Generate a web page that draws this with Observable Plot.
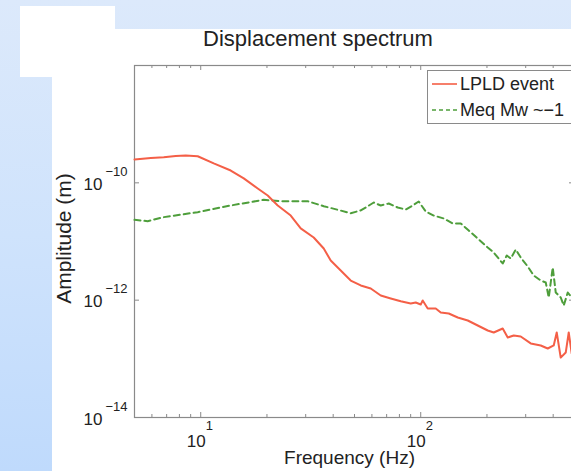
<!DOCTYPE html>
<html>
<head>
<meta charset="utf-8">
<script src="https://cdn.jsdelivr.net/npm/d3@7"></script>
<script src="https://cdn.jsdelivr.net/npm/@observablehq/plot@0.6"></script>
<style>
  html, body { margin: 0; padding: 0; width: 571px; height: 471px; overflow: hidden; }
  body { position: relative; font-family: "Liberation Sans", Arial, sans-serif; }
  #bg { position: absolute; left: 0; top: 0; width: 571px; height: 471px;
        background: linear-gradient(to bottom, #dce9fb 0%, #cfe3fc 50%, #bfdafc 100%); }
  #panel { position: absolute; left: 52px; top: 29px; width: 519px; height: 442px; background: #fff; }
  #box { position: absolute; left: 20px; top: 6px; width: 95px; height: 71px; background: #fff; }
  #chart { position: absolute; left: 0; top: 0; width: 571px; height: 471px; overflow: hidden; }
  #title { position: absolute; left: 118px; width: 400px; top: 26px; text-align: center;
           font-size: 22px; color: #222; line-height: 26px; }
  #legend { position: absolute; left: 427px; top: 70px; width: 160px; height: 54px;
            border: 1px solid #8a8a8a; background: #fff; box-sizing: border-box; }
  #legend .row { position: absolute; left: 4px; height: 24px; display: flex; align-items: center;
                 font-size: 18px; color: #222; white-space: nowrap; }
  #legend svg { margin-right: 3px; }
</style>
</head>
<body>
<div id="bg"></div>
<div id="panel"></div>
<div id="box"></div>
<div id="chart"></div>
<div id="title">Displacement spectrum</div>
<div id="legend"></div>
<script>
// ---- data (frequency in Hz, amplitude in m) ----
const lpldFreq = [5.0, 5.93, 6.79, 7.70, 8.55, 9.69, 11.46, 13.69, 15.69, 18.16, 20.16, 22.39, 25.65, 28.48,
  32.63, 36.24, 38.98, 43.29, 48.07, 53.38, 59.27, 65.81, 73.07, 81.13, 90.06, 94.9, 100, 102.1, 107.6,
  117.0, 123.3, 134.1, 147.3, 163.6, 181.6, 201.6, 214.7, 235.9, 248.6, 264.7, 284.8, 316.2, 351.2,
  377.8, 402.3, 415.1, 432.9, 456.2, 470.7, 485.7];
const lpldAmp = [2.50e-10, 2.65e-10, 2.74e-10, 2.87e-10, 2.92e-10, 2.84e-10, 2.14e-10, 1.62e-10, 1.19e-10,
  8.0e-11, 6.08e-11, 4.11e-11, 2.77e-11, 1.67e-11, 1.17e-11, 7.6e-12, 4.74e-12, 3.20e-12, 2.16e-12,
  1.78e-12, 1.58e-12, 1.20e-12, 1.07e-12, 9.6e-13, 8.77e-13, 9.12e-13, 8.44e-13, 9.87e-13, 7.21e-13,
  7.21e-13, 6.16e-13, 5.93e-13, 5.06e-13, 4.50e-13, 3.70e-13, 3.04e-13, 2.81e-13, 3.29e-13, 2.31e-13,
  2.50e-13, 2.40e-13, 1.83e-13, 1.69e-13, 1.50e-13, 1.69e-13, 2.81e-13, 1.05e-13, 1.28e-13, 2.81e-13, 1.23e-13];

const meqFreq = [5.0, 5.74, 6.79, 9.69, 13.69, 19.34, 23.10, 30.65, 36.24, 48.07, 53.38, 56.23, 61.15,
  65.81, 71.55, 78.6, 85.5, 91.95, 97.9, 105.4, 114.6, 127.2, 139.8, 152.0, 165.3, 181.6, 201.6, 214.7,
  235.9, 246.0, 256.5, 270.3, 284.8, 306.5, 326.3, 351.2, 370.1, 381.9, 398.1, 410.9, 432.9, 446.7,
  465.9, 485.7];
const meqAmp = [2.34e-11, 2.22e-11, 2.60e-11, 3.16e-11, 4.11e-11, 5.14e-11, 4.86e-11, 4.86e-11, 4.00e-11,
  3.04e-11, 3.38e-11, 3.80e-11, 4.62e-11, 4.11e-11, 4.44e-11, 3.80e-11, 3.51e-11, 4.11e-11, 4.81e-11,
  3.25e-11, 2.77e-11, 2.47e-11, 2.03e-11, 2.03e-11, 1.54e-11, 1.12e-11, 7.9e-12, 6.49e-12, 4.22e-12,
  5.77e-12, 5.13e-12, 7.30e-12, 5.34e-12, 3.75e-12, 2.63e-12, 2.16e-12, 2.00e-12, 1.11e-12, 3.60e-12,
  1.35e-12, 1.11e-12, 8.11e-13, 1.35e-12, 1.11e-12];

const seriesNames = ["LPLD event", "Meq Mw ~\u22121"];
const seriesColors = ["#f45f47", "#4e9e3b"];
const xMajorTicks = [10, 100];
const xMinorTicks = [6, 7, 8, 9, 20, 30, 40, 50, 60, 70, 80, 90, 200, 300, 400];
const yTicks = [1e-14, 1e-12, 1e-10, 1e-8];
const yLabelTicks = [1e-14, 1e-12, 1e-10];
const xLabel = "Frequency (Hz)";
const yLabel = "Amplitude (m)";

const lpld = lpldFreq.map((f, i) => ({f, a: lpldAmp[i]}));
const meq = meqFreq.map((f, i) => ({f, a: meqAmp[i]}));

const axisGray = "#8a8a8a";
const textCol = "#222";
// frame size in px (layout)
const W = 580, H = 471, mL = 134, mR = 6, mT = 65, mB = 54;
const fw = W - mL - mR, fh = H - mT - mB;
const majorLen = 5, minorLen = 3;

const plot = Plot.plot({
  width: W,
  height: H,
  marginLeft: mL,
  marginRight: mR,
  marginTop: mT,
  marginBottom: mB,
  style: {background: "transparent", maxWidth: "none", fontFamily: "'Liberation Sans', Arial, sans-serif", color: textCol},
  x: {type: "log", domain: [5, 500], axis: null},
  y: {type: "log", domain: [1e-14, 1e-8], axis: null},
  marks: [
    // inward ticks on all four sides
    Plot.tickX(xMajorTicks, {x: d => d, insetTop: fh - majorLen, stroke: axisGray}),
    Plot.tickX(xMajorTicks, {x: d => d, insetBottom: fh - majorLen, stroke: axisGray}),
    Plot.tickX(xMinorTicks, {x: d => d, insetTop: fh - minorLen, stroke: axisGray}),
    Plot.tickX(xMinorTicks, {x: d => d, insetBottom: fh - minorLen, stroke: axisGray}),
    Plot.tickY(yTicks, {y: d => d, insetRight: fw - majorLen, stroke: axisGray}),
    Plot.tickY(yTicks, {y: d => d, insetLeft: fw - majorLen, stroke: axisGray}),
    Plot.frame({stroke: axisGray, strokeWidth: 1.2}),
    // tick labels: base + superscript exponent
    Plot.text(xMajorTicks, {x: d => d, frameAnchor: "bottom", text: () => "10", textAnchor: "end",
      lineAnchor: "bottom", dx: 5, dy: 29, fontSize: 17, fill: textCol}),
    Plot.text(xMajorTicks, {x: d => d, frameAnchor: "bottom", text: d => String(Math.round(Math.log10(d))),
      textAnchor: "start", lineAnchor: "bottom", dx: 5, dy: 12, fontSize: 13, fill: textCol}),
    Plot.text(yLabelTicks, {y: d => d, frameAnchor: "left", text: () => "10", textAnchor: "end",
      lineAnchor: "bottom", dx: -32, dy: 7, fontSize: 17, fill: textCol}),
    Plot.text(yLabelTicks, {y: d => d, frameAnchor: "left", text: d => "\u2212" + Math.abs(Math.round(Math.log10(d))),
      textAnchor: "start", lineAnchor: "bottom", dx: -29, dy: -7, fontSize: 13, fill: textCol}),
    // axis titles
    Plot.text([xLabel], {text: d => d, frameAnchor: "bottom", textAnchor: "middle", lineAnchor: "bottom",
      dx: -5, dy: 46, fontSize: 19, fill: textCol}),
    Plot.text([yLabel], {text: d => d, frameAnchor: "left", textAnchor: "middle", rotate: -90, lineAnchor: "middle",
      dx: -70, dy: -3, fontSize: 21, fill: textCol}),
    // series
    Plot.line(meq, {x: "f", y: "a", stroke: seriesColors[1], strokeWidth: 2, strokeDasharray: "6,4"}),
    Plot.line(lpld, {x: "f", y: "a", stroke: seriesColors[0], strokeWidth: 2})
  ]
});
document.getElementById("chart").appendChild(plot);

// legend
const legend = document.getElementById("legend");
seriesNames.forEach((name, i) => {
  const row = document.createElement("div");
  row.className = "row";
  row.style.top = (i === 0 ? 1 : 27) + "px";
  const dash = i === 1 ? ' stroke-dasharray="4,3"' : "";
  row.innerHTML = `<svg width="25" height="6"><line x1="0" y1="3" x2="25" y2="3" stroke="${seriesColors[i]}" stroke-width="1.6"${dash}/></svg><span>${name}</span>`;
  legend.appendChild(row);
});
</script>
</body>
</html>
